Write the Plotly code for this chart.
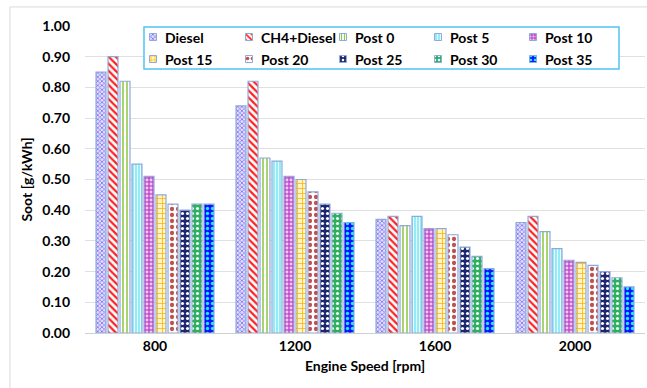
import plotly.graph_objects as go

# Engine speeds (categories)
speeds = ["800", "1200", "1600", "2000"]

# Soot emissions [g/kWh] per injection strategy
diesel     = [0.85, 0.74, 0.37, 0.36]
ch4_diesel = [0.90, 0.82, 0.38, 0.38]
post_0     = [0.82, 0.57, 0.35, 0.33]
post_5     = [0.55, 0.56, 0.38, 0.275]
post_10    = [0.51, 0.51, 0.34, 0.237]
post_15    = [0.45, 0.50, 0.34, 0.23]
post_20    = [0.42, 0.46, 0.32, 0.22]
post_25    = [0.40, 0.42, 0.28, 0.20]
post_30    = [0.42, 0.39, 0.25, 0.18]
post_35    = [0.42, 0.36, 0.21, 0.15]

y_ticks = [0.0, 0.1, 0.2, 0.3, 0.4, 0.5, 0.6, 0.7, 0.8, 0.9, 1.0]

series = [
    ("Diesel", diesel, dict(shape="x", fgcolor="#7D70EC", bgcolor="#E2DEFF", size=3, solidity=0.45)),
    ("CH4+Diesel", ch4_diesel, dict(shape="\\", fgcolor="#FF2020", bgcolor="#FFFFFF", size=5, solidity=0.45)),
    ("Post 0", post_0, dict(shape="|", fgcolor="#92C94A", bgcolor="#FFFFFF", size=4, solidity=0.4)),
    ("Post 5", post_5, dict(shape="|", fgcolor="#E8FDFF", bgcolor="#8AEAF5", size=3, solidity=0.4)),
    ("Post 10", post_10, dict(shape=".", fgcolor="#F2C8F2", bgcolor="#C24FCC", size=4, solidity=0.4)),
    ("Post 15", post_15, dict(shape="+", fgcolor="#FFB800", bgcolor="#FFF4C8", size=5, solidity=0.3)),
    ("Post 20", post_20, dict(shape=".", fgcolor="#C0504D", bgcolor="#FFFFFF", size=6, solidity=0.4)),
    ("Post 25", post_25, dict(shape=".", fgcolor="#FFFFFF", bgcolor="#1F2670", size=5, solidity=0.3)),
    ("Post 30", post_30, dict(shape=".", fgcolor="#F2FFF6", bgcolor="#2EAF5E", size=5, solidity=0.3)),
    ("Post 35", post_35, dict(shape=".", fgcolor="#10F0FF", bgcolor="#1010FF", size=5, solidity=0.35)),
]

font_family = "Lato, 'Liberation Sans', sans-serif"
edge = "#8EA9DB"

# plot-area geometry in pixels (used by the overlay axes of the legend)
PL, PR, PT, PB = 85, 645, 26, 333

fig = go.Figure()
for name, vals, pat in series:
    fig.add_trace(go.Bar(
        name=name,
        x=speeds,
        y=vals,
        showlegend=False,
        marker=dict(
            color=pat["bgcolor"],
            pattern=dict(fillmode="replace", **pat),
            line=dict(color=edge, width=1.2),
        ),
    ))

# Legend frame (white box with light-blue border) on pixel-scaled overlay axes
box_l, box_r, box_t, box_b = 144, 619, 27, 69
fig.add_trace(go.Bar(
    x=[(box_l + box_r) / 2], y=[box_b - box_t], base=[box_t],
    width=[box_r - box_l], offset=-(box_r - box_l) / 2,
    xaxis="x2", yaxis="y2", showlegend=False, hoverinfo="skip",
    marker=dict(color="white", line=dict(color="#4FC3F7", width=1.5)),
))

# Legend entries: 2 rows x 5 columns
col_x = [153, 249, 343, 438, 533]
row_y = [37, 59]
icon = 7
for i, (name, vals, pat) in enumerate(series):
    cx = col_x[i % 5]
    cy = row_y[i // 5]
    fig.add_trace(go.Bar(
        x=[cx], y=[icon], base=[cy - icon / 2], width=[icon], offset=-icon / 2,
        xaxis="x2", yaxis="y2", showlegend=False, hoverinfo="skip",
        marker=dict(
            color=pat["bgcolor"],
            pattern=dict(fillmode="replace", **{**pat, "size": max(3, pat["size"] - 1)}),
            line=dict(color=edge, width=1),
        ),
    ))
    fig.add_annotation(
        x=cx + 10, y=cy, xref="x2", yref="y2", xanchor="left", yanchor="middle",
        text=f"<b>{name}</b>", showarrow=False,
        font=dict(family=font_family, size=14, color="#000000"),
    )

fig.update_layout(
    width=647,
    height=388,
    margin=dict(l=PL, r=647 - PR, t=PT, b=388 - PB),
    paper_bgcolor="white",
    plot_bgcolor="white",
    barmode="group",
    bargap=0.143,
    bargroupgap=0.17,
    font=dict(family=font_family, size=14, color="#000000"),
    showlegend=False,
    xaxis=dict(
        title=dict(text="<b>Engine Speed [rpm]</b>", font=dict(size=14), standoff=8),
        tickfont=dict(size=14, weight="bold"),
        showline=True,
        linecolor="#D0D0D0",
        linewidth=1,
        ticks="",
        showgrid=False,
    ),
    yaxis=dict(
        title=dict(text="<b>Soot [g/kWh]</b>", font=dict(size=14), standoff=6),
        range=[0, 1.0],
        tickvals=y_ticks,
        tickformat=".2f",
        tickfont=dict(size=14, weight="bold"),
        showgrid=True,
        gridcolor="#E0E0E0",
        gridwidth=1,
        zeroline=False,
        ticks="",
        ticklabelstandoff=14,
    ),
    xaxis2=dict(overlaying="x", range=[PL, PR], visible=False, fixedrange=True),
    yaxis2=dict(overlaying="y", range=[PB, PT], visible=False, fixedrange=True),
)

# light chart-area frame along the top and left
fig.add_shape(type="line", xref="paper", yref="paper",
              x0=-0.134, x1=1.01, y0=1.062, y1=1.062,
              line=dict(color="#D9D9D9", width=1))
fig.add_shape(type="line", xref="paper", yref="paper",
              x0=-0.134, x1=-0.134, y0=1.062, y1=-0.2,
              line=dict(color="#D9D9D9", width=1))

fig.write_html("out.html")
